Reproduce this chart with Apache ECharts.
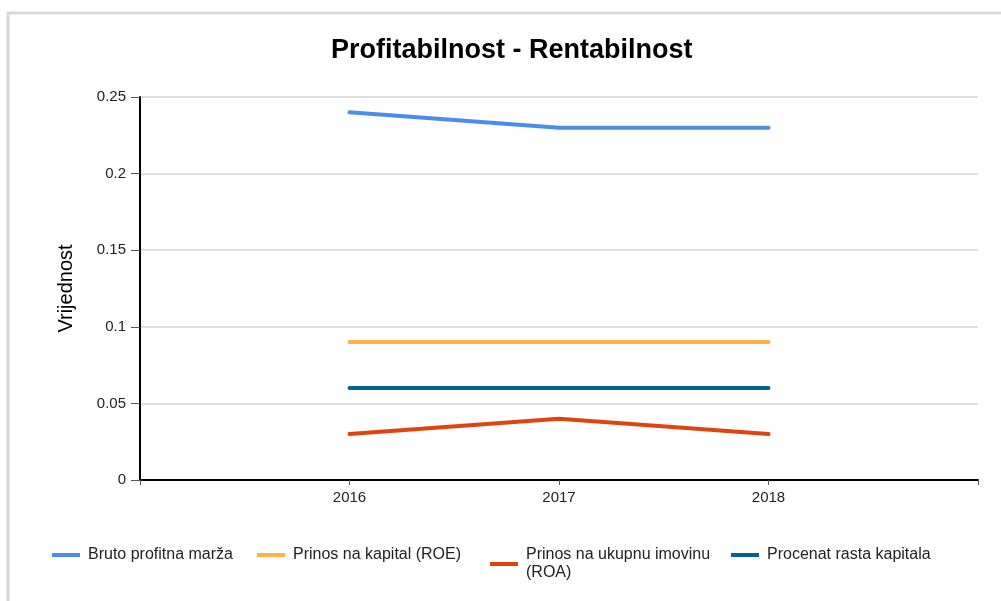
<!DOCTYPE html>
<html>
<head>
<meta charset="utf-8">
<script src="https://cdn.jsdelivr.net/npm/echarts@6/dist/echarts.min.js"></script>
<style>
    html, body { margin: 0; padding: 0; background: #fff; }
    #chart { width: 1001px; height: 601px; }
</style>
</head>
<body>
<div id="chart"></div>
<script>
// godine
var years = ['2016', '2017', '2018'];

// vrijednosti po seriji
var brutoMarza = [0.24, 0.23, 0.23];
var roe = [0.09, 0.09, 0.09];
var roa = [0.03, 0.04, 0.03];
var rastKapitala = [0.06, 0.06, 0.06];

var names = ['Bruto profitna marža', 'Prinos na kapital (ROE)', 'Prinos na ukupnu imovinu\n(ROA)', 'Procenat rasta kapitala'];
var colors = ['#4a8ded', '#fdb146', '#e0440e', '#07618f'];

var font = '"Liberation Sans", Arial, sans-serif';

// prazna mjesta na krajevima ose
var cats = [''].concat(years, ['']);
function pad(arr) {
    return [null].concat(arr, [null]);
}

var legendLeft = [52, 257, 490, 731];

var chart = echarts.init(document.getElementById('chart'));

var option = {
    animation: false,
    color: colors,
    title: {
        text: 'Profitabilnost - Rentabilnost',
        left: 326,
        top: 32,
        textStyle: {
            fontFamily: font,
            fontSize: 27,
            fontWeight: 'bold',
            color: '#000'
        }
    },
    graphic: [{
        type: 'rect',
        shape: { x: 8, y: 13, width: 1200, height: 800 },
        style: { fill: 'none', stroke: '#d9d9d9', lineWidth: 3 },
        silent: true
    }],
    legend: names.map(function (n, i) {
        return {
            data: [n],
            left: legendLeft[i],
            top: 546,
            padding: 0,
            icon: 'rect',
            itemWidth: 28,
            itemHeight: 4,
            textStyle: {
                fontFamily: font,
                fontSize: 16,
                color: '#222',
                lineHeight: 18,
                padding: [0, 0, 0, 3]
            }
        };
    }),
    grid: {
        left: 140,
        right: 23,
        top: 97,
        bottom: 121
    },
    xAxis: {
        type: 'category',
        data: cats,
        boundaryGap: false,
        axisLine: { lineStyle: { color: '#000', width: 2 } },
        axisTick: { length: 5, lineStyle: { color: '#555' } },
        axisLabel: {
            fontFamily: font,
            fontSize: 15,
            color: '#222',
            margin: 10,
            interval: 0
        },
        splitLine: { show: false }
    },
    yAxis: {
        type: 'value',
        min: 0,
        max: 0.25,
        interval: 0.05,
        name: 'Vrijednost',
        nameLocation: 'middle',
        nameGap: 64,
        nameTextStyle: {
            fontFamily: font,
            fontSize: 20,
            color: '#000'
        },
        axisLine: { show: true, lineStyle: { color: '#000', width: 2 } },
        axisTick: { show: true, length: 9, lineStyle: { color: '#555' } },
        axisLabel: {
            fontFamily: font,
            fontSize: 15,
            color: '#222',
            margin: 14
        },
        splitLine: { lineStyle: { color: '#e0e0e0', width: 2 } }
    },
    series: [brutoMarza, roe, roa, rastKapitala].map(function (d, i) {
        return {
            name: names[i],
            type: 'line',
            data: pad(d),
            showSymbol: false,
            lineStyle: { width: 4, cap: 'round', join: 'round' }
        };
    })
};

chart.setOption(option);
</script>
</body>
</html>
